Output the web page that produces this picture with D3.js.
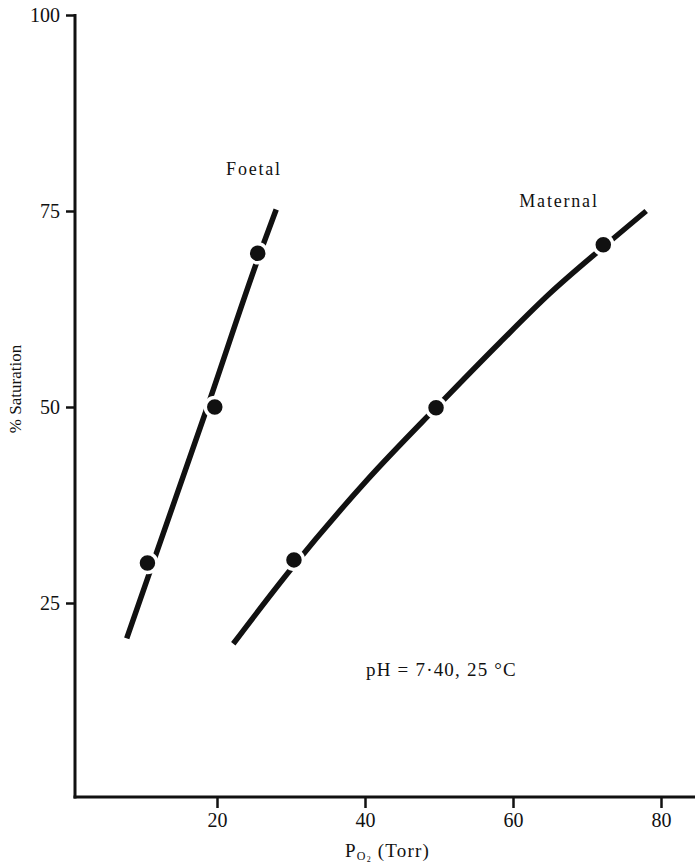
<!DOCTYPE html>
<html>
<head>
<meta charset="utf-8">
<script src="https://cdn.jsdelivr.net/npm/d3@7"></script>
<style>
  html, body { margin: 0; padding: 0; background: #fff; }
  svg { display: block; }
  text { font-family: "Liberation Serif", "Times New Roman", serif; fill: #111; }
</style>
</head>
<body>
<svg id="chart" width="695" height="863"></svg>
<script>
// ---- data ----
const xTicks = [20, 40, 60, 80];
const yTicks = [25, 50, 75, 100];

// Foetal curve (PO2, % saturation)
const foetalCurveP = [7.8, 11.3, 18.7, 25.8, 28.0];
const foetalCurveS = [20.5, 30.0, 50.0, 69.6, 75.2];
const foetalDotP = [10.6, 19.7, 25.5];
const foetalDotS = [30.1, 50.0, 69.6];

// Maternal curve
const maternalCurveP = [22.2, 29.9, 40.3, 49.9, 58.2, 65.0, 72.2, 78.0];
const maternalCurveS = [19.8, 29.2, 40.7, 50.2, 58.2, 64.5, 70.4, 75.0];
const maternalDotP = [30.4, 49.6, 72.2];
const maternalDotS = [30.5, 49.9, 70.7];

// ---- drawing ----
const svg = d3.select("#chart");
const x = d3.scaleLinear().domain([0, 80]).range([69, 661]);
const y = d3.scaleLinear().domain([0, 100]).range([799, 15]);

const axisX0 = 75, axisY0 = 797;
const ink = "#111";

// y axis
const gy = svg.append("g").attr("transform", `translate(${axisX0},0)`)
  .call(d3.axisLeft(y).tickValues(yTicks).tickSize(9).tickSizeOuter(0).tickPadding(6).tickFormat(d3.format("d")));
gy.select(".domain").remove();
gy.selectAll(".tick line").attr("stroke", ink).attr("stroke-width", 2.5);
gy.selectAll(".tick text").attr("font-size", 20).attr("font-family", "Liberation Serif").attr("fill", ink);

// x axis
const gx = svg.append("g").attr("transform", `translate(0,${axisY0})`)
  .call(d3.axisBottom(x).tickValues(xTicks).tickSize(11).tickSizeOuter(0).tickPadding(5).tickFormat(d3.format("d")));
gx.select(".domain").remove();
gx.selectAll(".tick line").attr("stroke", ink).attr("stroke-width", 2.5);
gx.selectAll(".tick text").attr("font-size", 20).attr("font-family", "Liberation Serif").attr("fill", ink);

// axis lines
svg.append("line").attr("x1", axisX0).attr("x2", axisX0).attr("y1", y(100) - 1).attr("y2", axisY0 + 1.5)
  .attr("stroke", ink).attr("stroke-width", 3);
svg.append("line").attr("x1", axisX0 - 1.5).attr("x2", 695).attr("y1", axisY0).attr("y2", axisY0)
  .attr("stroke", ink).attr("stroke-width", 3);

// curves
const line = d3.line().x(d => x(d[0])).y(d => y(d[1])).curve(d3.curveMonotoneX);
function drawSeries(cp, cs, dp, ds) {
  const pts = cp.map((p, i) => [p, cs[i]]);
  svg.append("path").datum(pts).attr("d", line)
    .attr("fill", "none").attr("stroke", ink).attr("stroke-width", 5.5).attr("stroke-linecap", "butt");
  const dots = dp.map((p, i) => [p, ds[i]]);
  svg.append("g").selectAll("circle").data(dots).join("circle")
    .attr("cx", d => x(d[0])).attr("cy", d => y(d[1])).attr("r", 9.5)
    .attr("fill", ink).attr("stroke", "#fff").attr("stroke-width", 3.5);
}
drawSeries(foetalCurveP, foetalCurveS, foetalDotP, foetalDotS);
drawSeries(maternalCurveP, maternalCurveS, maternalDotP, maternalDotS);

// labels
svg.append("text").attr("x", 254).attr("y", 175).attr("text-anchor", "middle")
  .attr("font-size", 18).attr("letter-spacing", 1.8).text("Foetal");
svg.append("text").attr("x", 559).attr("y", 207).attr("text-anchor", "middle")
  .attr("font-size", 18).attr("letter-spacing", 1.8).text("Maternal");
svg.append("text").attr("x", 366).attr("y", 676)
  .attr("font-size", 19).attr("letter-spacing", 1.2).text("pH = 7·40, 25 °C");

// axis titles
svg.append("text").attr("transform", "translate(21,389) rotate(-90)").attr("text-anchor", "middle")
  .attr("font-size", 17).text("% Saturation");

const xt = svg.append("text").attr("x", 345).attr("y", 857).attr("font-size", 19).attr("letter-spacing", 1.2);
xt.append("tspan").text("P");
xt.append("tspan").attr("font-size", 12).attr("dy", 3).text("O");
xt.append("tspan").attr("font-size", 8).attr("dy", 2).text("2");
xt.append("tspan").attr("dy", -5).text(" (Torr)");
</script>
</body>
</html>
